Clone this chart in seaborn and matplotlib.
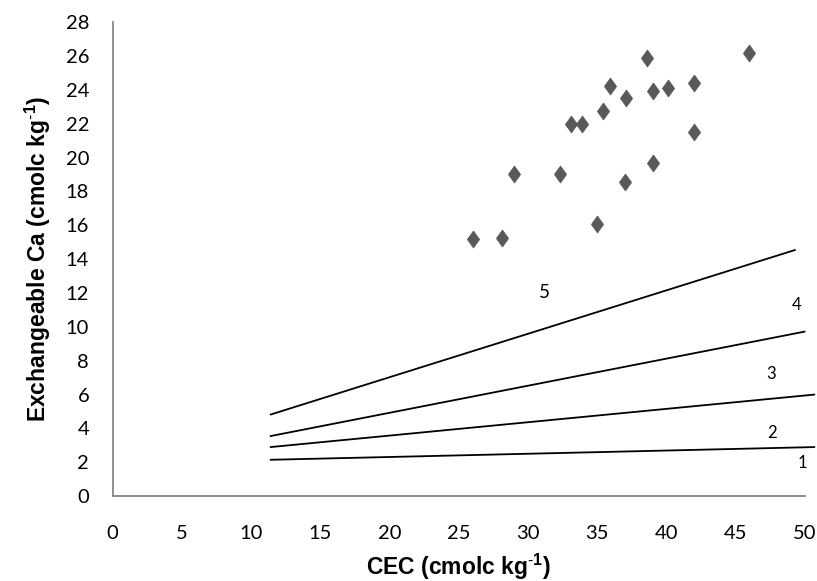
import matplotlib
matplotlib.use("Agg")
import matplotlib.pyplot as plt
import seaborn as sns
import pandas as pd

# Scatter data (CEC vs exchangeable Ca)
cec = [26.0, 28.1, 29.0, 32.3, 33.1, 33.9, 35.0, 35.4, 35.9, 37.1, 37.0,
       38.6, 39.0, 39.0, 40.1, 42.0, 42.0, 46.0]
ca = [15.2, 15.25, 19.0, 19.0, 22.0, 22.0, 16.1, 22.75, 24.2, 23.5, 18.55,
      25.85, 23.95, 19.65, 24.1, 24.4, 21.5, 26.2]

# Reference lines (start/end points)
line_x_start = [11.4, 11.4, 11.4, 11.4]
line_x_end = [50.7, 50.7, 50.0, 49.3]
line_y_start = [2.15, 2.9, 3.55, 4.82]
line_y_end = [2.9, 6.0, 9.72, 14.54]

# Line labels
lab_text = ["5", "4", "3", "2", "1"]
lab_x = [31.2, 49.4, 47.6, 47.6, 49.8]
lab_y = [12.0, 11.3, 7.2, 3.75, 1.95]

xticks = list(range(0, 51, 5))
yticks = list(range(0, 29, 2))

sns.set_theme(style="white")
plt.rcParams['font.family'] = ['Lato', 'DejaVu Sans']
plt.rcParams['mathtext.fontset'] = 'custom'
plt.rcParams['mathtext.bf'] = 'Liberation Sans:bold'
plt.rcParams['mathtext.rm'] = 'Liberation Sans'

fig = plt.figure(figsize=(8.17, 5.81), dpi=100)
ax = fig.add_axes([0.138, 0.146, 0.847, 0.816])

for xs, xe, ys, ye in zip(line_x_start, line_x_end, line_y_start, line_y_end):
    df = pd.DataFrame({"x": [xs, xe], "y": [ys, ye]})
    sns.lineplot(data=df, x="x", y="y", ax=ax, color="black", linewidth=1.3,
                 clip_on=False)

diamond = [(0, 1), (0.72, 0), (0, -1), (-0.72, 0), (0, 1)]
sns.scatterplot(x=cec, y=ca, ax=ax, marker=diamond, s=150, color="#595959",
                edgecolor="#595959", linewidth=0.5, zorder=5)

for t, x, y in zip(lab_text, lab_x, lab_y):
    ax.text(x, y, t, fontsize=13.5 if t == "5" else 12, ha="center", va="center",
            color="black")

ax.set_xlim(0, 50)
ax.set_ylim(0, 28)
ax.set_xticks(xticks)
ax.set_yticks(yticks)
ax.tick_params(axis="both", labelsize=14.5, colors="black", width=1,
               color="#868686", direction="out")
ax.tick_params(axis="x", length=4.5, pad=16)
ax.tick_params(axis="y", length=6, pad=11)
for s in ["top", "right"]:
    ax.spines[s].set_visible(False)
for s in ["left", "bottom"]:
    ax.spines[s].set_color("#868686")
    ax.spines[s].set_linewidth(1.3)

ax.set_xlabel(r"CEC (cmolc kg$^{\mathbf{\text{-}1}}$)", fontsize=16.5,
              fontweight="bold", family=["Liberation Sans"], color="black", labelpad=7)
ax.set_ylabel(r"Exchangeable Ca (cmolc kg$^{\mathbf{\text{-}1}}$)", fontsize=16.5,
              fontweight="bold", family=["Liberation Sans"], color="black", labelpad=9)

fig.savefig("out.png", dpi=100)
